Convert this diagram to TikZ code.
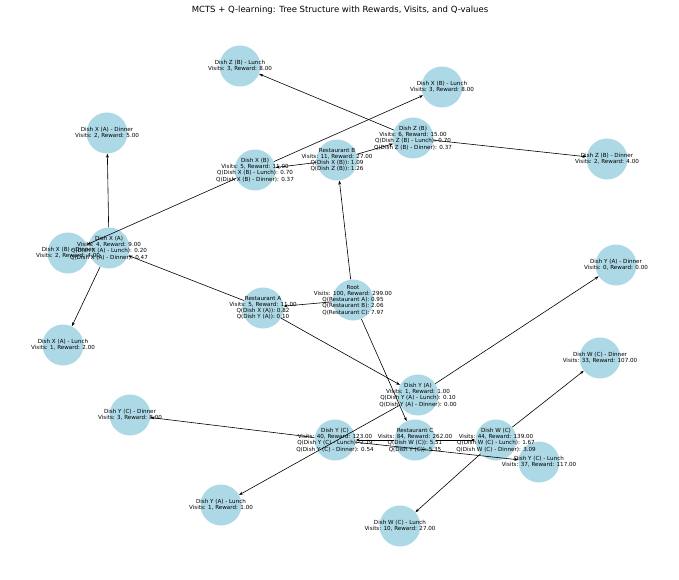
\documentclass[tikz,border=0pt]{standalone}
\usepackage{fontspec}
\setmainfont{DejaVu Sans}
\usetikzlibrary{arrows.meta}
\definecolor{lb}{HTML}{ADD8E6}
\tikzset{
  n/.style={circle,fill=lb,draw=none,minimum size=41pt,inner sep=0pt},
  t/.style={font=\fontsize{5.6}{6.2}\selectfont,align=center,inner sep=0pt},
  e/.style={-{Stealth[length=4pt,width=3pt]},line width=0.6pt}
}
\begin{document}
\begin{tikzpicture}[x=1pt,y=-1pt]
\useasboundingbox (0,0) rectangle (679,580);
\node[font=\fontsize{8.5}{9}\selectfont] (title) at (340,10) {MCTS + Q-learning: Tree Structure with Rewards, Visits, and Q-values};
\foreach \nm/\p in {root/{353,300},ra/{263,308},rb/{337,160},rc/{415,440},xa/{109,248},ya/{418,395},xb/{255,170},zb/{413,138},yc/{335,440},wc/{496,440},xad/{107,133},xal/{63,345},xbd/{68,253},xbl/{442,87},zbl/{240,66},zbd/{607,159},yad/{616,265},yal/{221,505},ycd/{130,415},ycl/{539,462},wcd/{600,358},wcl/{400,526}}
  {\node[n] (\nm) at (\p) {};}
\draw[e] (root) -- (ra); \draw[e] (root) -- (rb); \draw[e] (root) -- (rc);
\draw[e] (ra) -- (xa); \draw[e] (ra) -- (ya);
\draw[e] (rb) -- (xb); \draw[e] (rb) -- (zb);
\draw[e] (rc) -- (yc); \draw[e] (rc) -- (wc);
\draw[e] (xa) -- (xad); \draw[e] (xa) -- (xal);
\draw[e] (ya) -- (yad); \draw[e] (ya) -- (yal);
\draw[e] (xb) -- (xbl); \draw[e] (xb) -- (xbd);
\draw[e] (zb) -- (zbl); \draw[e] (zb) -- (zbd);
\draw[e] (yc) -- (ycd); \draw[e] (yc) -- (ycl);
\draw[e] (wc) -- (wcd); \draw[e] (wc) -- (wcl);
\node[t] (roott) at (root) {Root\\Visits: 100, Reward: 299.00\\Q(Restaurant A): 0.95\\Q(Restaurant B): 2.06\\Q(Restaurant C): 7.97};
\node[t] (rat) at (ra) {Restaurant A\\Visits: 5, Reward: 11.00\\Q(Dish X (A)): 0.82\\Q(Dish Y (A)): 0.10};
\node[t] (rbt) at (rb) {Restaurant B\\Visits: 11, Reward: 27.00\\Q(Dish X (B)): 1.09\\Q(Dish Z (B)): 1.26};
\node[t] (rct) at (rc) {Restaurant C\\Visits: 84, Reward: 262.00\\Q(Dish W (C)): 5.51\\Q(Dish Y (C)): 5.35};
\node[t] (xat) at (xa) {Dish X (A)\\Visits: 4, Reward: 9.00\\Q(Dish X (A) - Lunch): 0.20\\Q(Dish X (A) - Dinner): 0.47};
\node[t] (yat) at (ya) {Dish Y (A)\\Visits: 1, Reward: 1.00\\Q(Dish Y (A) - Lunch): 0.10\\Q(Dish Y (A) - Dinner): 0.00};
\node[t] (xbt) at (xb) {Dish X (B)\\Visits: 5, Reward: 11.00\\Q(Dish X (B) - Lunch): 0.70\\Q(Dish X (B) - Dinner): 0.37};
\node[t] (zbt) at (zb) {Dish Z (B)\\Visits: 6, Reward: 15.00\\Q(Dish Z (B) - Lunch): 0.70\\Q(Dish Z (B) - Dinner): 0.37};
\node[t] (yct) at (yc) {Dish Y (C)\\Visits: 40, Reward: 123.00\\Q(Dish Y (C) - Lunch): 2.79\\Q(Dish Y (C) - Dinner): 0.54};
\node[t] (wct) at (wc) {Dish W (C)\\Visits: 44, Reward: 139.00\\Q(Dish W (C) - Lunch): 1.67\\Q(Dish W (C) - Dinner): 3.09};
\node[t] (xadt) at (xad) {Dish X (A) - Dinner\\Visits: 2, Reward: 5.00};
\node[t] (xalt) at (xal) {Dish X (A) - Lunch\\Visits: 1, Reward: 2.00};
\node[t] (xbdt) at (xbd) {Dish X (B) - Dinner\\Visits: 2, Reward: 4.00};
\node[t] (xblt) at (xbl) {Dish X (B) - Lunch\\Visits: 3, Reward: 8.00};
\node[t] (zblt) at (zbl) {Dish Z (B) - Lunch\\Visits: 3, Reward: 8.00};
\node[t] (zbdt) at (zbd) {Dish Z (B) - Dinner\\Visits: 2, Reward: 4.00};
\node[t] (yadt) at (yad) {Dish Y (A) - Dinner\\Visits: 0, Reward: 0.00};
\node[t] (yalt) at (yal) {Dish Y (A) - Lunch\\Visits: 1, Reward: 1.00};
\node[t] (ycdt) at (ycd) {Dish Y (C) - Dinner\\Visits: 3, Reward: 8.00};
\node[t] (yclt) at (ycl) {Dish Y (C) - Lunch\\Visits: 37, Reward: 117.00};
\node[t] (wcdt) at (wcd) {Dish W (C) - Dinner\\Visits: 33, Reward: 107.00};
\node[t] (wclt) at (wcl) {Dish W (C) - Lunch\\Visits: 10, Reward: 27.00};
\end{tikzpicture}
\end{document}
